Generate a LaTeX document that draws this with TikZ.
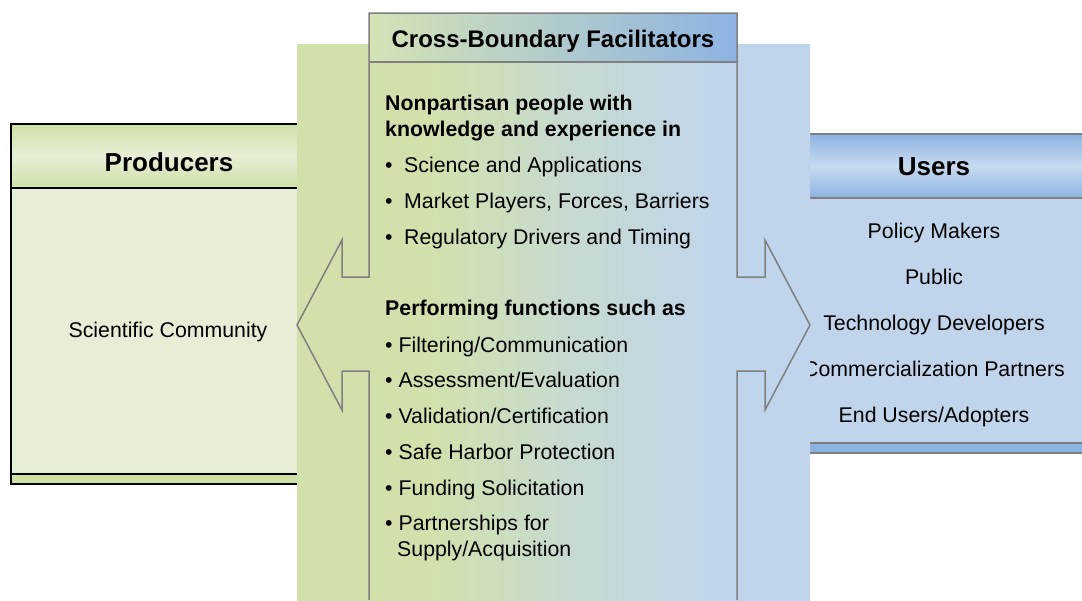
\documentclass[tikz,border=0pt]{standalone}
\usepackage{fontspec}
\setmainfont{Liberation Sans}
\usepackage{tikz}
\usepackage{xcolor}
\usetikzlibrary{
    calc,
    positioning
}

\definecolor{linegray}{HTML}{7F7F7F}
\definecolor{bandgreen}{HTML}{D2E1AC}
\definecolor{bandmid}{HTML}{C6D9D4}
\definecolor{bandblue}{HTML}{C0D5EC}
\definecolor{hdrgreen}{HTML}{D5E3B5}
\definecolor{userblue}{HTML}{8DB3E2}
\definecolor{userlight}{HTML}{C8DAF0}
\definecolor{prodgreen}{HTML}{CFE0A6}
\definecolor{prodlight}{HTML}{E6EFD6}
\definecolor{prodbody}{HTML}{E6EFD6}
\pgfdeclarehorizontalshading{bandshade}{100bp}{color(0bp)=(bandgreen); color(38bp)=(bandgreen); color(53bp)=(bandmid); color(67bp)=(bandblue); color(100bp)=(bandblue)}

\begin{document}
\begin{tikzpicture}[x=1pt, y=-1pt,
        outline/.style={draw=linegray, line width=1.5pt, line join=miter},
        body/.style={inner sep=0pt, font=\fontsize{21.3}{25}\selectfont},
        lead/.style={inner sep=0pt, font=\fontsize{21.3}{25}\selectfont\bfseries},
        head/.style={inner sep=0pt, font=\fontsize{26}{30}\selectfont\bfseries}]
    \useasboundingbox (0, 0) rectangle (1082, 600);

    \shade[top color=userblue, bottom color=userblue, middle color=userlight] (790, 134) rectangle (1090, 198);
    \fill[bandblue] (790, 198) rectangle (1090, 443);
    \fill[userblue] (790, 443) rectangle (1090, 453);
    \draw[draw=linegray, line width=2pt] (790, 134) -- (1090, 134) (790, 198) -- (1090, 198)
        (790, 443) -- (1090, 443) (790, 453) -- (1090, 453);
    \node[head, anchor=base] (users) at (934, 175) {Users};
    \node[body, anchor=base] (policy) at (934, 238) {Policy Makers};
    \node[body, anchor=base] (public) at (934, 284) {Public};
    \node[body, anchor=base] (techdev) at (934, 330) {Technology Developers};
    \node[body, anchor=base] (commerce) at (934, 376) {Commercialization Partners};
    \node[body, anchor=base] (endusers) at (934, 422) {End Users/Adopters};

    \shade[top color=prodgreen, bottom color=prodgreen, middle color=prodlight] (11, 124) rectangle (330, 188);
    \fill[prodbody] (11, 188) rectangle (330, 474);
    \fill[prodgreen] (11, 474) rectangle (330, 484);
    \draw[line width=2pt] (11, 124) rectangle (330, 484) (11, 188) -- (330, 188) (11, 474) -- (330, 474);
    \node[head, anchor=base] (producers) at (169, 171) {Producers};
    \node[body, anchor=base] (scicomm) at (168, 337) {Scientific Community};

    \shade[shading=bandshade] (297, 44) rectangle (810, 600);
    \shade[left color=hdrgreen, right color=userblue] (369, 13) rectangle (737, 62);
    \draw[outline] (369, 600) -- (369, 371) -- (342, 371) -- (342, 410) -- (297, 325) -- (342, 240)
        -- (342, 277) -- (369, 277) -- (369, 13) -- (737, 13) -- (737, 277) -- (765, 277)
        -- (765, 240) -- (810, 325) -- (765, 410) -- (765, 371) -- (737, 371) -- (737, 600);
    \draw[outline] (369, 62) -- (737, 62);

    \node[inner sep=0pt, font=\fontsize{24}{28}\selectfont\bfseries, anchor=base] (facil) at (553, 47) {Cross-Boundary Facilitators};
    \node[lead, anchor=base west] (nonpart) at (385, 110) {Nonpartisan people with};
    \node[lead, anchor=base west] (knowl) at (385, 136) {knowledge and experience in};
    \node[body, anchor=base west] (science) at (385, 172) {\makebox[19pt][l]{•}Science and Applications};
    \node[body, anchor=base west] (market) at (385, 208) {\makebox[19pt][l]{•}Market Players, Forces, Barriers};
    \node[body, anchor=base west] (regul) at (385, 244) {\makebox[19pt][l]{•}Regulatory Drivers and Timing};
    \node[lead, anchor=base west] (perform) at (385, 315) {Performing functions such as};
    \node[body, anchor=base west] (filter) at (385, 352) {• Filtering/Communication};
    \node[body, anchor=base west] (assess) at (385, 387) {• Assessment/Evaluation};
    \node[body, anchor=base west] (valid) at (385, 423) {• Validation/Certification};
    \node[body, anchor=base west] (harbor) at (385, 459) {• Safe Harbor Protection};
    \node[body, anchor=base west] (funding) at (385, 495) {• Funding Solicitation};
    \node[body, anchor=base west] (partner) at (385, 530) {• Partnerships for};
    \node[body, anchor=base west] (supply) at (397, 556) {Supply/Acquisition};
\end{tikzpicture}
\end{document}
